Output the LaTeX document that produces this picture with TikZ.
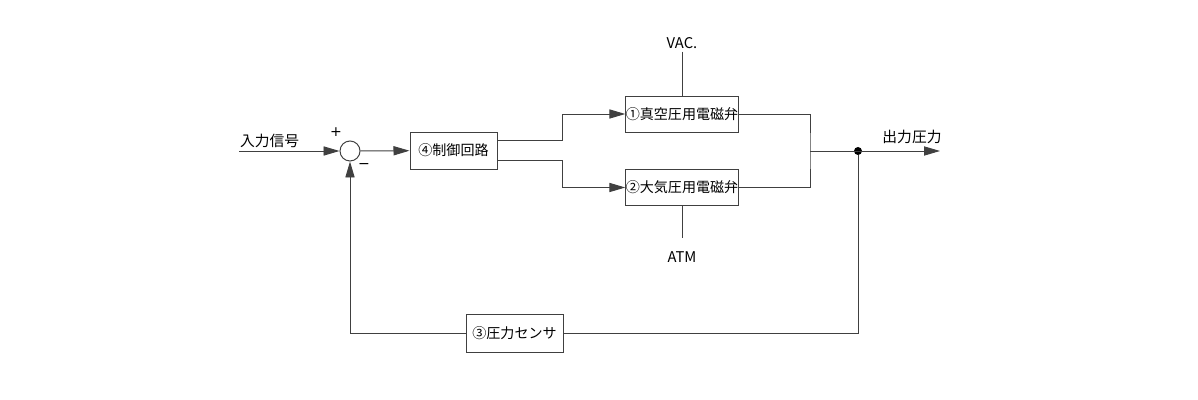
\documentclass[tikz,border=0pt]{standalone}
\usepackage{fontspec}
\setmainfont{Noto Sans CJK JP}
\newfontfamily\signfont{DejaVu Sans}
\usetikzlibrary{arrows.meta}
\usetikzlibrary{positioning}

\begin{document}
\begin{tikzpicture}[x=0.025cm, y=-0.025cm,
    line/.style={draw=black!75, line width=0.7pt},
    arr/.style={line, -{Triangle[length=0.4cm, width=0.23cm]}},
    block/.style={rectangle, line, inner sep=0pt, minimum height=0.9cm, font=\fontsize{10}{12}\selectfont},
    lbl/.style={inner sep=2pt, font=\fontsize{10.5}{12}\selectfont}]
    \useasboundingbox (0,0) rectangle (1198,400);

    \node [circle, line, minimum size=0.5cm, inner sep=0pt] (sum) at (350,151) {};
    \node [block, minimum width=2.175cm, minimum height=0.925cm] (ctrl) at (453.5,150.5) {④制御回路};
    \node [block, minimum width=2.75cm] (vac_valve) at (682,114) {①真空圧用電磁弁};
    \node [block, minimum width=2.75cm] (atm_valve) at (682,187.5) {②大気圧用電磁弁};
    \node [block, minimum width=2.425cm, minimum height=0.95cm] (sensor) at (514.5,333) {③圧力センサ};

    \node [lbl] (vac) at (682,43) {VAC.};
    \node [lbl] (atm) at (682,257) {ATM};
    \node [lbl, anchor=west] (in_lbl) at (237,141) {入力信号};
    \node [lbl] (out_lbl) at (912,137) {出力圧力};
    \node [lbl, font=\signfont\fontsize{10}{12}\selectfont] (plus) at (336,132) {+};
    \node [lbl, font=\signfont\fontsize{10}{12}\selectfont] (minus) at (364,166) {−};

    \coordinate (in) at (239,151);
    \coordinate (merge) at (810,151);
    \coordinate (out) at (940,151);
    \node [circle, fill=black, inner sep=0pt, minimum size=0.2cm] (tap) at (858,151) {};

    \draw [arr] (in) -- (sum);
    \draw [arr] (sum) -- (ctrl);
    \draw [arr] ([yshift=0.25cm] ctrl.east) -- ++(65,0) |- (vac_valve.west);
    \draw [arr] ([yshift=-0.25cm] ctrl.east) -- ++(65,0) |- (atm_valve.west);
    \draw [line] (vac) -- (vac_valve);
    \draw [line] (atm_valve) -- ([yshift=0.25cm] atm.north);
    \draw [line] (vac_valve.east) -| (merge) |- (atm_valve.east);
    \draw [arr] (merge) -- (out);
    \draw [line] (tap) |- (sensor.east);
    \draw [arr] (sensor.west) -| (sum.south);
\end{tikzpicture}
\end{document}
